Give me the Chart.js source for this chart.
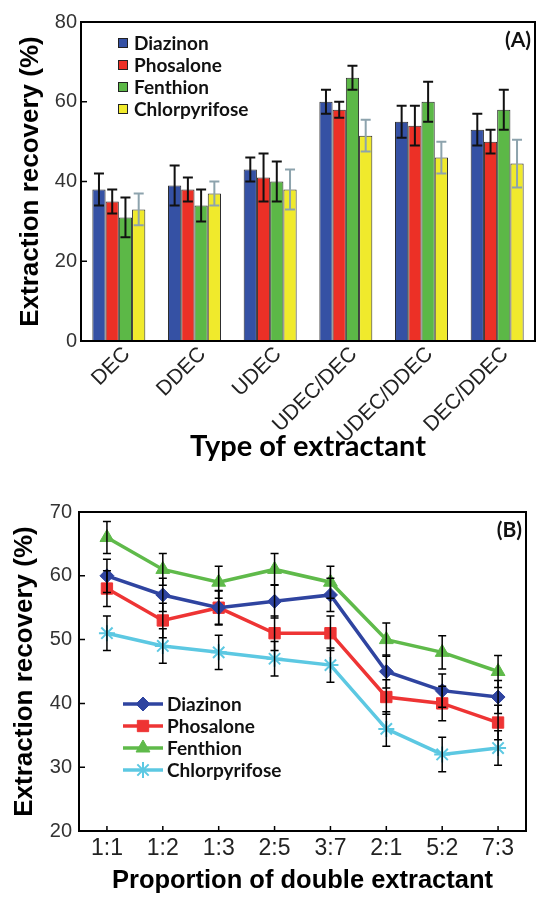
<!DOCTYPE html>
<html>
<head>
<meta charset="utf-8">
<script src="https://cdn.jsdelivr.net/npm/chart.js@4.4.1/dist/chart.umd.min.js"></script>
<style>
  body { margin: 0; background: #fff; width: 536px; height: 898px; overflow: hidden; }
  .box { position: absolute; left: 0; width: 536px; }
</style>
</head>
<body>
<div class="box" style="top:0; height:478px"><canvas id="chartA"></canvas></div>
<div class="box" style="top:478px; height:420px"><canvas id="chartB"></canvas></div>
<script>
// (A) extraction recovery by type of extractant
const extractants = ['DEC', 'DDEC', 'UDEC', 'UDEC/DEC', 'UDEC/DDEC', 'DEC/DDEC'];
const pesticides = ['Diazinon', 'Phosalone', 'Fenthion', 'Chlorpyrifose'];

const diazinonA = [38, 39, 43, 60, 55, 53];
const phosaloneA = [35, 38, 41, 58, 54, 50];
const fenthionA = [31, 34, 40, 66, 60, 58];
const chlorpyrifoseA = [33, 37, 38, 51.5, 46, 44.5];

const diazinonErrA = [4, 5, 3, 3, 4, 4];
const phosaloneErrA = [3, 3, 6, 2, 5, 3];
const fenthionErrA = [5, 4, 5, 3, 5, 5];
const chlorpyrifoseErrA = [4, 3, 5, 4, 4, 6];

// (B) extraction recovery by proportion of double extractant
const proportions = ['1:1', '1:2', '1:3', '2:5', '3:7', '2:1', '5:2', '7:3'];

const diazinonB = [60, 57, 55, 56, 57, 45, 42, 41];
const phosaloneB = [58, 53, 55, 51, 51, 41, 40, 37];
const fenthionB = [66, 61, 59, 61, 59, 50, 48, 45];
const chlorpyrifoseB = [51, 49, 48, 47, 46, 36, 32, 33];

const diazinonErrB = [2.6, 2.6, 2.6, 2.6, 2.6, 2.6, 2.6, 2.6];
const phosaloneErrB = [2.8, 2.7, 2.7, 2.7, 2.7, 2.7, 2.7, 2.7];
const fenthionErrB = [2.5, 2.5, 2.5, 2.5, 2.5, 2.6, 2.6, 2.5];
const chlorpyrifoseErrB = [2.7, 2.7, 2.7, 2.7, 2.7, 2.7, 2.7, 2.7];

Chart.defaults.font.family = '"Liberation Sans", Arial, sans-serif';
Chart.defaults.color = '#333';

// draws error bars from each dataset's "errors" list, using the y scale
const errorBars = {
  id: 'errorBars',
  afterDatasetsDraw(chart, args, opts) {
    const ctx = chart.ctx;
    const yScale = chart.scales.y;
    chart.data.datasets.forEach((ds, i) => {
      if (!ds.errors) return;
      const meta = chart.getDatasetMeta(i);
      ctx.save();
      ctx.strokeStyle = ds.errorColor || '#000';
      ctx.lineWidth = opts.lineWidth;
      meta.data.forEach((el, j) => {
        const v = ds.data[j];
        const e = ds.errors[j];
        const yTop = yScale.getPixelForValue(v + e);
        const yBot = yScale.getPixelForValue(v - e);
        const x = el.x;
        ctx.beginPath();
        ctx.moveTo(x, yTop); ctx.lineTo(x, yBot);
        ctx.moveTo(x - opts.cap, yTop); ctx.lineTo(x + opts.cap, yTop);
        ctx.moveTo(x - opts.cap, yBot); ctx.lineTo(x + opts.cap, yBot);
        ctx.stroke();
      });
      ctx.restore();
    });
  }
};

// box round the plot area plus inward tick marks
const frame = {
  id: 'frame',
  afterDraw(chart, args, opts) {
    const { ctx, chartArea: a } = chart;
    const y = chart.scales.y;
    const x = chart.scales.x;
    ctx.save();
    ctx.strokeStyle = '#000';
    ctx.lineWidth = 2;
    ctx.strokeRect(a.left, a.top, a.right - a.left, a.bottom - a.top);
    ctx.lineWidth = 1.5;
    ctx.beginPath();
    y.ticks.forEach(t => {
      const py = y.getPixelForValue(t.value);
      ctx.moveTo(a.left, py); ctx.lineTo(a.left + 6, py);
    });
    if (opts.xTicks) {
      x.ticks.forEach((t, i) => {
        const px = x.getPixelForTick(i);
        ctx.moveTo(px, a.bottom); ctx.lineTo(px, a.bottom - 5);
      });
    }
    ctx.stroke();
    ctx.restore();
  }
};

// legend drawn inside the plot area, plus panel letter
const innerLegend = {
  id: 'innerLegend',
  afterDraw(chart, args, opts) {
    const { ctx, chartArea: a } = chart;
    ctx.save();
    ctx.font = 'bold 19px Lato';
    ctx.textBaseline = 'middle';
    chart.data.datasets.forEach((ds, i) => {
      const y = a.top + opts.top + i * 22;
      const x = a.left + opts.left;
      if (opts.lines) {
        ctx.strokeStyle = ds.borderColor;
        ctx.lineWidth = 3.5;
        ctx.beginPath();
        ctx.moveTo(x, y); ctx.lineTo(x + 40, y);
        ctx.stroke();
        ctx.fillStyle = ds.pointBackgroundColor;
        ctx.strokeStyle = ds.borderColor;
        ctx.lineWidth = ds.pointBorderWidth;
        Chart.helpers.drawPoint(ctx, { pointStyle: ds.pointStyle, radius: ds.pointRadius, borderWidth: ds.pointBorderWidth, rotation: 0 }, x + 20, y);
        ctx.fillStyle = '#111';
        ctx.fillText(ds.label, x + 44, y + 1);
      } else {
        ctx.fillStyle = ds.backgroundColor;
        ctx.fillRect(x, y - 5, 10, 10);
        ctx.strokeStyle = '#222';
        ctx.lineWidth = 1;
        ctx.strokeRect(x + 0.5, y - 4.5, 9, 9);
        ctx.fillStyle = '#111';
        ctx.fillText(ds.label, x + 16, y + 1);
      }
    });
    ctx.font = 'bold 21px Lato';
    ctx.textAlign = 'right';
    ctx.fillStyle = '#111';
    ctx.fillText(opts.panel, a.right - 4, a.top + 18);
    ctx.restore();
  }
};

function barSet(label, data, errors, color, errorColor) {
  return {
    label: label,
    data: data,
    errors: errors,
    errorColor: errorColor,
    backgroundColor: color,
    borderColor: '#2a2a2a',
    borderWidth: 1,
    barPercentage: 1,
    categoryPercentage: 0.7
  };
}

function lineSet(label, data, errors, color, style, radius) {
  return {
    label: label,
    data: data,
    errors: errors,
    borderColor: color,
    backgroundColor: color,
    pointBackgroundColor: color,
    pointBorderColor: color,
    pointBorderWidth: style === 'star' ? 2 : 1,
    borderWidth: 3.5,
    pointStyle: style,
    pointRadius: radius,
    tension: 0
  };
}

const titleFont = { family: '"Liberation Sans", Arial, sans-serif', size: 26, weight: 'bold' };

new Chart(document.getElementById('chartA'), {
  type: 'bar',
  data: {
    labels: extractants,
    datasets: [
      barSet(pesticides[0], diazinonA, diazinonErrA, '#3551a4', '#111'),
      barSet(pesticides[1], phosaloneA, phosaloneErrA, '#ec3026', '#111'),
      barSet(pesticides[2], fenthionA, fenthionErrA, '#5cb847', '#111'),
      barSet(pesticides[3], chlorpyrifoseA, chlorpyrifoseErrA, '#f0ea2c', '#8da3ad')
    ]
  },
  options: {
    responsive: true,
    maintainAspectRatio: false,
    animation: false,
    layout: { padding: { top: 22, right: 1, left: 0, bottom: 0 } },
    plugins: {
      legend: { display: false },
      tooltip: { enabled: false },
      errorBars: { lineWidth: 2, cap: 5 },
      frame: { xTicks: false },
      innerLegend: { top: 21, left: 37, panel: '(A)', lines: false }
    },
    scales: {
      x: {
        grid: { display: false, drawTicks: false },
        border: { display: false },
        ticks: { color: '#222', font: { size: 21 }, maxRotation: 45, minRotation: 45, autoSkip: false, padding: 1, labelOffset: 8 },
        title: { display: true, text: 'Type of extractant', color: '#000', font: { family: 'Lato', size: 29, weight: 'bold' }, padding: { top: 0, bottom: 14 } },
        afterFit: s => { s.height = 137; }
      },
      y: {
        min: 0, max: 80,
        grid: { display: false, drawTicks: false },
        border: { display: false },
        ticks: { stepSize: 20, color: '#333', font: { size: 20 }, padding: 4 },
        title: { display: true, text: 'Extraction recovery (%)', color: '#000', font: titleFont, padding: { top: 15, bottom: 0 } },
        afterFit: s => { s.width = 81; }
      }
    }
  },
  plugins: [errorBars, frame, innerLegend]
});

new Chart(document.getElementById('chartB'), {
  type: 'line',
  data: {
    labels: proportions,
    datasets: [
      lineSet(pesticides[0], diazinonB, diazinonErrB, '#2f44a0', 'rectRot', 7),
      lineSet(pesticides[1], phosaloneB, phosaloneErrB, '#ee3434', 'rect', 8),
      lineSet(pesticides[2], fenthionB, fenthionErrB, '#5fba4a', 'triangle', 8),
      lineSet(pesticides[3], chlorpyrifoseB, chlorpyrifoseErrB, '#5cc8e2', 'star', 8)
    ]
  },
  options: {
    responsive: true,
    maintainAspectRatio: false,
    animation: false,
    layout: { padding: { top: 34, right: 1, left: 0, bottom: 0 } },
    plugins: {
      legend: { display: false },
      tooltip: { enabled: false },
      errorBars: { lineWidth: 1.5, cap: 4 },
      frame: { xTicks: true },
      innerLegend: { top: 192, left: 44, panel: '(B)', lines: true }
    },
    scales: {
      x: {
        offset: true,
        grid: { display: false, drawTicks: false },
        border: { display: false },
        ticks: { color: '#222', font: { size: 23 }, padding: 4 },
        title: { display: true, text: 'Proportion of double extractant', color: '#000', font: { family: '"Liberation Sans", Arial, sans-serif', size: 25.5, weight: 'bold' }, padding: { top: 0, bottom: 2 } },
        afterFit: s => { s.height = 67; }
      },
      y: {
        min: 20, max: 70,
        grid: { display: false, drawTicks: false },
        border: { display: false },
        ticks: { stepSize: 10, color: '#333', font: { size: 20 }, padding: 7 },
        title: { display: true, text: 'Extraction recovery (%)', color: '#000', font: titleFont, padding: { top: 9, bottom: 0 } },
        afterFit: s => { s.width = 79; }
      }
    }
  },
  plugins: [errorBars, frame, innerLegend]
});
</script>
</body>
</html>
